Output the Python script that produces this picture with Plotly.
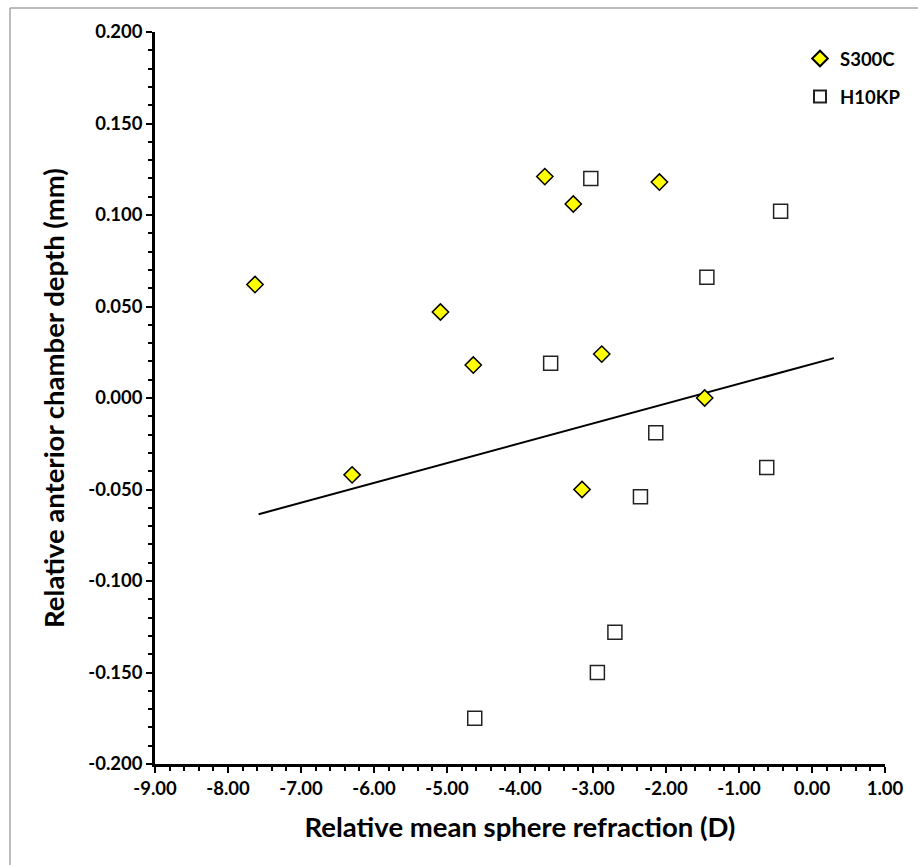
import plotly.graph_objects as go

# S300C measurements: relative refraction (D) vs relative ACD (mm)
s300c_x = [-7.63, -6.30, -5.09, -4.64, -3.66, -3.27, -3.15, -2.88, -2.09, -1.47]
s300c_y = [0.062, -0.042, 0.047, 0.018, 0.121, 0.106, -0.050, 0.024, 0.118, 0.000]

# H10KP measurements
h10kp_x = [-4.62, -3.58, -3.03, -2.94, -2.70, -2.35, -2.14, -1.44, -0.62, -0.43]
h10kp_y = [-0.175, 0.019, 0.120, -0.150, -0.128, -0.054, -0.019, 0.066, -0.038, 0.102]

# linear trend line end points
trend_x = [-7.58, 0.30]
trend_y = [-0.0635, 0.0218]

# axis ticks
x_ticks = [-9, -8, -7, -6, -5, -4, -3, -2, -1, 0, 1]
x_ticktext = ["-9.00", "-8.00", "-7.00", "-6.00", "-5.00", "-4.00",
              "-3.00", "-2.00", "-1.00", "0.00", "1.00"]
y_ticks = [-0.2, -0.15, -0.1, -0.05, 0.0, 0.05, 0.1, 0.15, 0.2]
y_ticktext = ["-0.200", "-0.150", "-0.100", "-0.050", "0.000",
              "0.050", "0.100", "0.150", "0.200"]

FONT = "Lato"

fig = go.Figure()

fig.add_trace(go.Scatter(
    x=trend_x, y=trend_y, mode="lines",
    line=dict(color="black", width=2),
    showlegend=False, hoverinfo="skip",
))

fig.add_trace(go.Scatter(
    x=s300c_x, y=s300c_y, mode="markers", name="S300C",
    legendgroup="a",
    marker=dict(symbol="diamond", size=12.5, color="#FFFF00",
                line=dict(color="black", width=1.5)),
))

fig.add_trace(go.Scatter(
    x=h10kp_x, y=h10kp_y, mode="markers", name="H10KP",
    legendgroup="b",
    marker=dict(symbol="square", size=14, color="white",
                line=dict(color="#222222", width=1.5)),
))

axis_common = dict(
    showline=True, linecolor="black", linewidth=2.5,
    showgrid=False, zeroline=False,
    ticks="outside", ticklen=6, tickwidth=2, tickcolor="black",
    tickfont=dict(family=FONT, size=18.5, color="black", weight="bold"),
)

title_font = dict(family=FONT, size=27.5, color="black", weight="bold")

fig.update_xaxes(
    range=[-9, 1], tickvals=x_ticks, ticktext=x_ticktext,
    minor=dict(dtick=0.2, ticks="outside", ticklen=4, tickwidth=1.5,
               tickcolor="black", showgrid=False),
    title=dict(text="Relative mean sphere refraction (D)", standoff=20,
               font=title_font),
    **axis_common,
)
fig.update_yaxes(
    range=[-0.2, 0.2], tickvals=y_ticks, ticktext=y_ticktext,
    minor=dict(dtick=0.01, ticks="outside", ticklen=4, tickwidth=1.5,
               tickcolor="black", showgrid=False),
    title=dict(text="Relative anterior chamber depth (mm)", standoff=16,
               font=title_font),
    **axis_common,
)

# frame around the chart area (left and top edges)
frame_x = (10 - 155) / 730
frame_y = (865 - 101 - 8) / 732
fig.add_shape(type="line", xref="paper", yref="paper",
              x0=frame_x, x1=frame_x, y0=frame_y, y1=-2,
              line=dict(color="#A6A6A6", width=1.5))
fig.add_shape(type="line", xref="paper", yref="paper",
              x0=frame_x, x1=3, y0=frame_y, y1=frame_y,
              line=dict(color="#A6A6A6", width=1.5))

fig.update_layout(
    width=918, height=865,
    margin=dict(l=155, r=33, t=32, b=101, autoexpand=False),
    paper_bgcolor="white", plot_bgcolor="white",
    font=dict(family=FONT, color="black"),
    legend=dict(
        x=(800 - 155) / 730, y=(865 - 101 - 40) / 732,
        xanchor="left", yanchor="top",
        font=dict(family=FONT, size=18.5, color="black", weight="bold"),
        tracegroupgap=11, traceorder="grouped",
        bgcolor="rgba(0,0,0,0)", itemsizing="constant",
    ),
)

fig.write_html("out.html")
